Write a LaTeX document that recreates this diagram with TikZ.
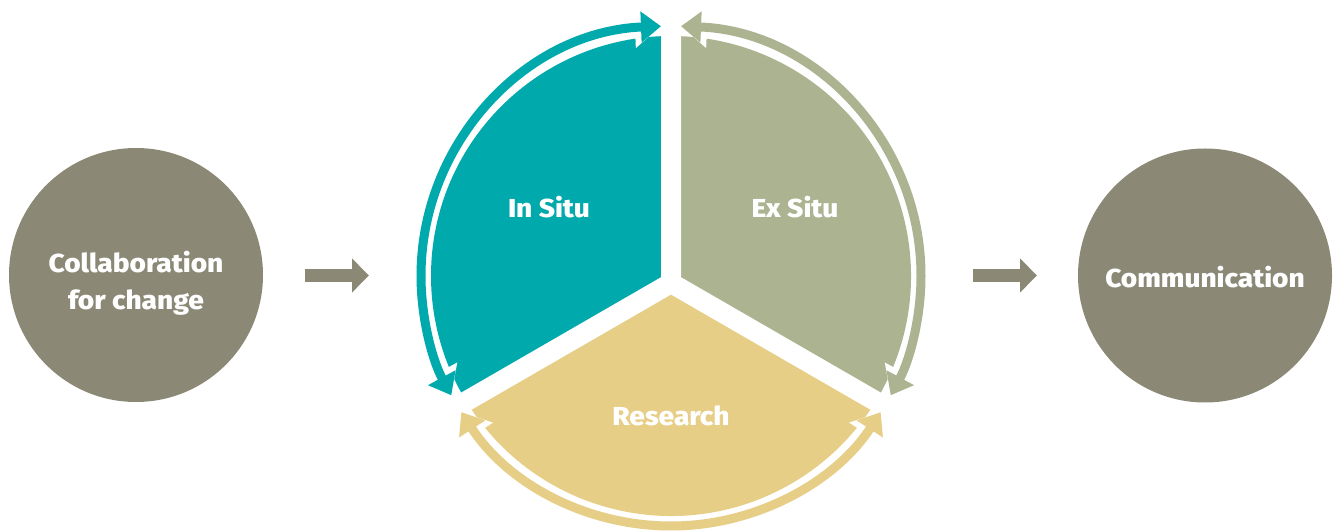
\documentclass[tikz,border=0pt]{standalone}
\usepackage{fontspec}
\setmainfont{Fira Sans}[BoldFont={Fira Sans ExtraBold}, BoldFeatures={FakeStretch=1.08}]
\usetikzlibrary{arrows.meta}
\definecolor{tealc}{RGB}{0,169,172}
\definecolor{sagec}{RGB}{172,179,145}
\definecolor{sandc}{RGB}{231,206,135}
\definecolor{stonec}{RGB}{139,137,118}
\begin{document}
\begin{tikzpicture}[x=1pt,y=1pt,
  lbl/.style={text=white, font=\bfseries\fontsize{26}{37}\selectfont, align=center, inner sep=0pt},
  disc/.style={circle, fill=stonec, minimum size=254pt, inner sep=0pt},
  ring/.style={line width=9pt, {Triangle[width=30pt,length=20pt]}-{Triangle[width=30pt,length=20pt]}},
  halo/.style={draw=white, line width=15pt, {Triangle[width=40pt,length=26pt]}-{Triangle[width=40pt,length=26pt]}},
  flow/.style={draw=stonec, line width=13pt, -{Triangle[width=33pt,length=17pt]}},
  gapline/.style={draw=white, line width=20pt}
]
\useasboundingbox (0,0) rectangle (1338,530);
\coordinate (P) at (671,254);
\coordinate (Y) at (671,247);
% sectors
\fill[tealc] (P) -- ++(90:240) arc[start angle=90,end angle=210,radius=240] -- cycle;
\fill[sagec] (P) -- ++(-30:240) arc[start angle=-30,end angle=90,radius=240] -- cycle;
\fill[sandc] (P) -- ++(210:240) arc[start angle=210,end angle=330,radius=240] -- cycle;
% separators
\draw[gapline] (Y) -- ++(90:250) (Y) -- ++(210:250) (Y) -- ++(330:250);
\fill[white] (Y) circle[radius=10];
% halos
\draw[halo] ([shift={(92.3:250)}]P) arc[start angle=92.3,end angle=208.5,radius=250];
\draw[halo] ([shift={(87.7:250)}]P) arc[start angle=87.7,end angle=-28.5,radius=250];
\draw[halo] ([shift={(213:250)}]P) arc[start angle=213,end angle=327,radius=250];
% arcs
\draw[ring, draw=tealc] ([shift={(92.3:250)}]P) arc[start angle=92.3,end angle=208.5,radius=250];
\draw[ring, draw=sagec] ([shift={(87.7:250)}]P) arc[start angle=87.7,end angle=-28.5,radius=250];
\draw[ring, draw=sandc] ([shift={(213:250)}]P) arc[start angle=213,end angle=327,radius=250];
% side discs
\node[disc] (collab) at (136,255) {};
\node[disc] (comm) at (1205,254.5) {};
\node[lbl] (collabtxt) at (136,247) {Collaboration\\for change};
\node[lbl] (commtxt) at (1205,253) {Communication};
\node[lbl] (insitu) at (549,323) {In Situ};
\node[lbl] (exsitu) at (795,323) {Ex Situ};
\node[lbl] (research) at (671,114) {Research};
% flow arrows
\coordinate (a1s) at (305,254.5);
\coordinate (a1e) at (369,254.5);
\coordinate (a2s) at (973,254.5);
\coordinate (a2e) at (1037,254.5);
\draw[flow] (a1s) -- (a1e);
\draw[flow] (a2s) -- (a2e);
\end{tikzpicture}
\end{document}
